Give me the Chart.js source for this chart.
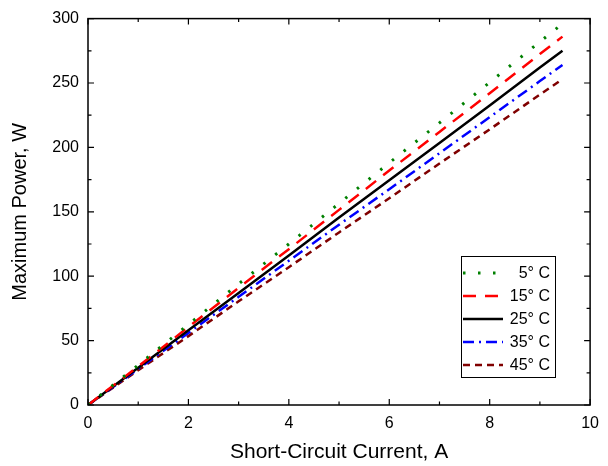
<!DOCTYPE html>
<html>
<head>
<meta charset="utf-8">
<script src="https://cdn.jsdelivr.net/npm/chart.js@4/dist/chart.umd.min.js"></script>
<style>
  html, body { margin: 0; padding: 0; background: #fff; }
  #wrap { width: 608px; height: 466px; }
</style>
</head>
<body>
<div id="wrap"><canvas id="chart"></canvas></div>
<script>
// short-circuit current (A) and maximum power (W) per cell temperature
const current = [0, 1, 2, 3, 4, 5, 6, 7, 8, 9, 9.45];
const power5  = [0, 31, 62.5, 94, 125, 156.5, 188, 219, 250.5, 282, 296];
const power15 = [0, 30, 60.5, 91, 121, 151.5, 182, 212, 242, 272.5, 286];
const power25 = [0, 29, 58, 87, 116, 145.5, 174.5, 203.5, 232.5, 262, 275];
const power35 = [0, 28, 56, 84, 112, 140, 167.5, 195.5, 223.5, 251.5, 264];
const power45 = [0, 27, 53.5, 80.5, 107, 134, 160.5, 187.5, 214, 241, 253];
const seriesLabels = ['5\u00B0 C', '15\u00B0 C', '25\u00B0 C', '35\u00B0 C', '45\u00B0 C'];

const FONT = "'Liberation Sans', Arial, sans-serif";

function pts(ys) {
    return current.map((x, i) => ({ x: x, y: ys[i] }));
}

// frame, inward tick marks and the boxed legend inside the plot
const framePlugin = {
    id: 'frame',
    afterDraw(chart) {
        const ctx = chart.ctx;
        const a = chart.chartArea;
        const xs = chart.scales.x, ys = chart.scales.y;
        ctx.save();
        ctx.strokeStyle = '#000';
        ctx.lineWidth = 1.5;
        ctx.strokeRect(a.left, a.top, a.right - a.left, a.bottom - a.top);

        ctx.lineWidth = 1.2;
        ctx.beginPath();
        xs.ticks.forEach(t => {
            const px = xs.getPixelForValue(t.value);
            const len = t.value % 2 === 0 ? 6 : 3.5;
            ctx.moveTo(px, a.bottom); ctx.lineTo(px, a.bottom - len);
            ctx.moveTo(px, a.top); ctx.lineTo(px, a.top + len);
        });
        ys.ticks.forEach(t => {
            const py = ys.getPixelForValue(t.value);
            const len = t.value % 50 === 0 ? 6 : 3.5;
            ctx.moveTo(a.left, py); ctx.lineTo(a.left + len, py);
            ctx.moveTo(a.right, py); ctx.lineTo(a.right - len, py);
        });
        ctx.stroke();

        // legend
        const bx = 461, by = 256, bw = 94, bh = 121;
        ctx.fillStyle = '#fff';
        ctx.fillRect(bx, by, bw, bh);
        ctx.lineWidth = 1;
        ctx.strokeRect(bx + 0.5, by + 0.5, bw, bh);
        ctx.font = '16px ' + FONT;
        ctx.textAlign = 'right';
        ctx.textBaseline = 'middle';
        chart.data.datasets.forEach((ds, i) => {
            const y = by + 17 + i * 23;
            ctx.strokeStyle = ds.borderColor;
            ctx.lineWidth = ds.borderWidth;
            ctx.setLineDash(ds.borderDash || []);
            ctx.beginPath();
            ctx.moveTo(bx + 2, y);
            ctx.lineTo(bx + 42, y);
            ctx.stroke();
            ctx.setLineDash([]);
            ctx.fillStyle = '#000';
            ctx.fillText(ds.label, bx + 89, y + 1);
        });
        ctx.restore();
    }
};

const ctx = document.getElementById('chart').getContext('2d');
new Chart(ctx, {
    type: 'line',
    data: {
        datasets: [
            { label: seriesLabels[0], data: pts(power5),  borderColor: '#008000', borderWidth: 3,   borderDash: [2.5, 12.5] },
            { label: seriesLabels[1], data: pts(power15), borderColor: '#ff0000', borderWidth: 2.5, borderDash: [13, 9] },
            { label: seriesLabels[2], data: pts(power25), borderColor: '#000000', borderWidth: 2.5, borderDash: [] },
            { label: seriesLabels[3], data: pts(power35), borderColor: '#0000ff', borderWidth: 2.5, borderDash: [11, 5, 2, 5] },
            { label: seriesLabels[4], data: pts(power45), borderColor: '#800000', borderWidth: 2.5, borderDash: [7, 5] }
        ]
    },
    options: {
        responsive: true,
        maintainAspectRatio: false,
        animation: { duration: 0 },
        layout: { padding: { top: 16, right: 10, left: 0, bottom: 0 } },
        elements: { point: { radius: 0 }, line: { tension: 0 } },
        plugins: { legend: { display: false }, tooltip: { enabled: false } },
        scales: {
            x: {
                type: 'linear', min: 0, max: 10,
                afterFit(s) { s.height = 61; },
                grid: { display: false, drawTicks: false },
                border: { display: false },
                ticks: {
                    stepSize: 1, autoSkip: false, maxRotation: 0, padding: 9,
                    color: '#000', font: { family: FONT, size: 16 },
                    callback: v => (v % 2 === 0 ? v : '')
                },
                title: {
                    display: true, text: 'Short-Circuit Current, A', color: '#000',
                    font: { family: FONT, size: 21 }, padding: { top: 0, bottom: 1 }
                }
            },
            y: {
                type: 'linear', min: 0, max: 300,
                afterFit(s) { s.width = 88; },
                grid: { display: false, drawTicks: false },
                border: { display: false },
                ticks: {
                    stepSize: 25, autoSkip: false, padding: 9,
                    color: '#000', font: { family: FONT, size: 16 },
                    callback: v => (v % 50 === 0 ? v : '')
                },
                title: {
                    display: true, text: 'Maximum Power, W', color: '#000',
                    font: { family: FONT, size: 20 }, padding: { top: 8, bottom: 0 }
                }
            }
        }
    },
    plugins: [framePlugin]
});
</script>
</body>
</html>
